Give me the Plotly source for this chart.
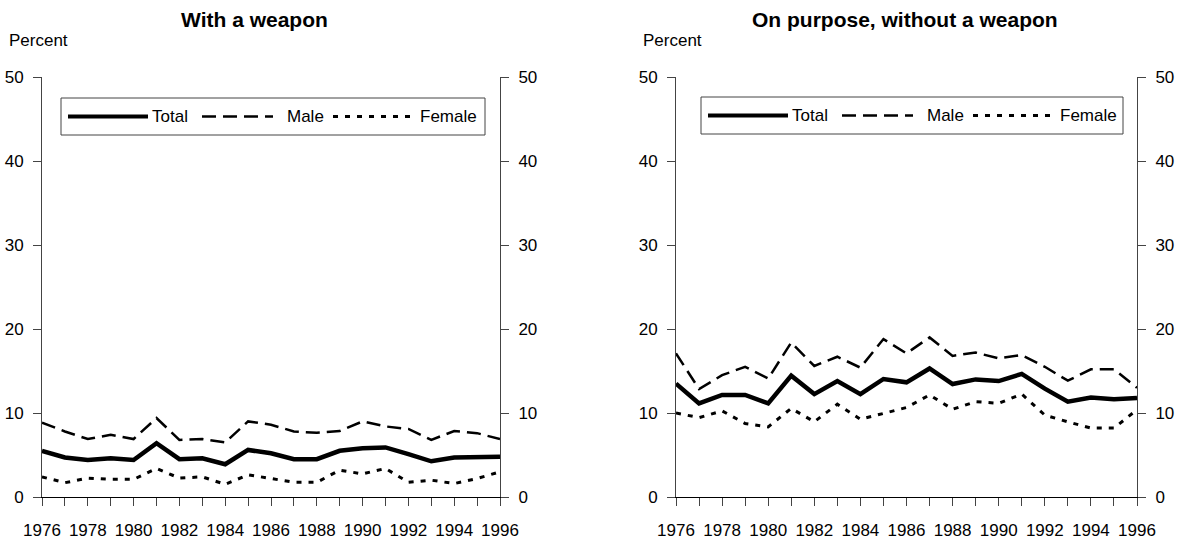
import plotly.graph_objects as go

# ---------------- data ----------------
years = list(range(1976, 1997))
year_labels = [str(y) if (y - 1976) % 2 == 0 else "" for y in years]
y_ticks = [0, 10, 20, 30, 40, 50]

weapon_total = [5.5, 4.7, 4.4, 4.6, 4.4, 6.4, 4.5, 4.6, 3.9, 5.6, 5.2,
                4.5, 4.5, 5.5, 5.8, 5.9, 5.1, 4.25, 4.7, 4.8, 4.8]
weapon_male = [8.85, 7.8, 6.9, 7.4, 6.9, 9.4, 6.8, 6.9, 6.5, 9.0, 8.6,
               7.8, 7.65, 7.85, 9.0, 8.4, 8.1, 6.8, 7.85, 7.6, 6.9]
weapon_female = [2.4, 1.7, 2.25, 2.1, 2.1, 3.4, 2.25, 2.4, 1.5, 2.65, 2.2,
                 1.75, 1.75, 3.2, 2.75, 3.4, 1.75, 2.0, 1.6, 2.2, 3.0]

nowep_total = [13.5, 11.15, 12.15, 12.15, 11.15, 14.45, 12.25, 13.8, 12.25, 14.05, 13.65,
               15.3, 13.45, 14.0, 13.8, 14.65, 12.9, 11.35, 11.85, 11.65, 11.8]
nowep_male = [17.1, 12.85, 14.5, 15.5, 14.1, 18.4, 15.6, 16.7, 15.4, 18.8, 17.1,
              19.0, 16.8, 17.2, 16.5, 16.9, 15.5, 13.85, 15.2, 15.2, 13.0]
nowep_female = [10.0, 9.45, 10.25, 8.75, 8.35, 10.55, 8.95, 11.05, 9.25, 9.95, 10.65,
                12.15, 10.45, 11.35, 11.15, 12.25, 9.75, 8.95, 8.2, 8.2, 10.4]

titles = ["With a weapon", "On purpose, without a weapon"]
series_names = ["Total", "Male", "Female"]

# ---------------- layout helpers ----------------
W, H = 1179, 542
FONT = "Liberation Sans, Arial, sans-serif"

def px(x):
    return x / W

def py(y):
    return 1 - y / H

panels = [
    dict(x0=42, x1=500, title_cx=254, pct_x=7, box=(61, 98, 485, 135)),
    dict(x0=676, x1=1137, title_cx=905, pct_x=641, box=(701, 97, 1123, 134)),
]
plot_top, plot_bot = 77, 497

styles = {
    "Total": dict(color="black", width=4.5, dash="solid"),
    "Male": dict(color="black", width=2.5, dash="14px,7px"),
    "Female": dict(color="black", width=3, dash="5px,7px"),
}

fig = go.Figure()

data = [
    (weapon_total, weapon_male, weapon_female),
    (nowep_total, nowep_male, nowep_female),
]

for i, (tot, male, fem) in enumerate(data):
    xa = "x" if i == 0 else "x2"
    ya = "y" if i == 0 else "y2"
    for name, vals in zip(series_names, (tot, male, fem)):
        fig.add_trace(go.Scatter(x=years, y=vals, mode="lines", name=name,
                                 line=styles[name], xaxis=xa, yaxis=ya,
                                 showlegend=False, hoverinfo="skip"))
    # invisible trace so that the right-hand axis is drawn
    fig.add_trace(go.Scatter(x=years, y=tot, mode="lines", line=dict(width=0),
                             opacity=0, xaxis=xa, yaxis="y3" if i == 0 else "y4",
                             showlegend=False, hoverinfo="skip"))

axis_font = dict(family=FONT, size=17, color="black")

def xaxis_cfg(p):
    return dict(domain=[px(p["x0"]), px(p["x1"])], range=[1976, 1996],
                tickvals=years, ticktext=year_labels, ticks="outside", ticklen=8,
                tickcolor="#444", tickwidth=1, showline=True, linecolor="black",
                linewidth=1, showgrid=False, zeroline=False, tickfont=axis_font,
                tickangle=0, ticklabelstandoff=10, automargin=False, fixedrange=True)

def yaxis_cfg(anchor, side, overlaying=None):
    d = dict(domain=[py(plot_bot), py(plot_top)], range=[0, 50], tickvals=y_ticks,
             ticks="outside", ticklen=8, tickcolor="#444", tickwidth=1,
             showline=True, linecolor="#444", linewidth=1, showgrid=False,
             zeroline=False, tickfont=axis_font, anchor=anchor, side=side,
             ticklabelstandoff=6,
             automargin=False, fixedrange=True)
    if overlaying:
        d["overlaying"] = overlaying
    return d

fig.update_layout(
    width=W, height=H, margin=dict(l=0, r=0, t=0, b=0, autoexpand=False),
    paper_bgcolor="white", plot_bgcolor="white", showlegend=False,
    font=dict(family=FONT, color="black"),
    xaxis=xaxis_cfg(panels[0]), xaxis2=xaxis_cfg(panels[1]),
    yaxis=yaxis_cfg("x", "left"), yaxis2=yaxis_cfg("x2", "left"),
    yaxis3=yaxis_cfg("x", "right", "y"), yaxis4=yaxis_cfg("x2", "right", "y2"),
)

# titles and "Percent" labels
for p, t in zip(panels, titles):
    fig.add_annotation(x=px(p["title_cx"]), y=py(20), xref="paper", yref="paper",
                       text=t, showarrow=False, xanchor="center", yanchor="middle",
                       font=dict(family=FONT, size=21, color="black", weight="bold"))
    fig.add_annotation(x=px(p["pct_x"]), y=py(40), xref="paper", yref="paper",
                       text="Percent", showarrow=False, xanchor="left", yanchor="middle",
                       font=dict(family=FONT, size=17, color="black"))

# custom legend boxes (sample line offsets relative to box left edge)
legend_items = [
    ("Total", 7, 87, 89),
    ("Male", 141, 212, 224),
    ("Female", 272, 354, 357),
]
for p in panels:
    bx0, by0, bx1, by1 = p["box"]
    fig.add_shape(type="rect", xref="paper", yref="paper",
                  x0=px(bx0), x1=px(bx1), y0=py(by1), y1=py(by0),
                  line=dict(color="#444", width=1), fillcolor="white", layer="above")
    cy = (by0 + by1) / 2
    for name, s0, s1, tx in legend_items:
        st = styles[name]
        fig.add_shape(type="line", xref="paper", yref="paper",
                      x0=px(bx0 + s0), x1=px(bx0 + s1), y0=py(cy), y1=py(cy),
                      line=dict(color="black", width=min(st["width"], 4), dash=st["dash"]),
                      layer="above")
        fig.add_annotation(x=px(bx0 + tx), y=py(cy), xref="paper", yref="paper",
                           text=name, showarrow=False, xanchor="left", yanchor="middle",
                           font=dict(family=FONT, size=17, color="black"))

fig.write_html("out.html", config={"displayModeBar": False},
               post_script="document.body.style.margin='0';document.body.style.padding='0';")
